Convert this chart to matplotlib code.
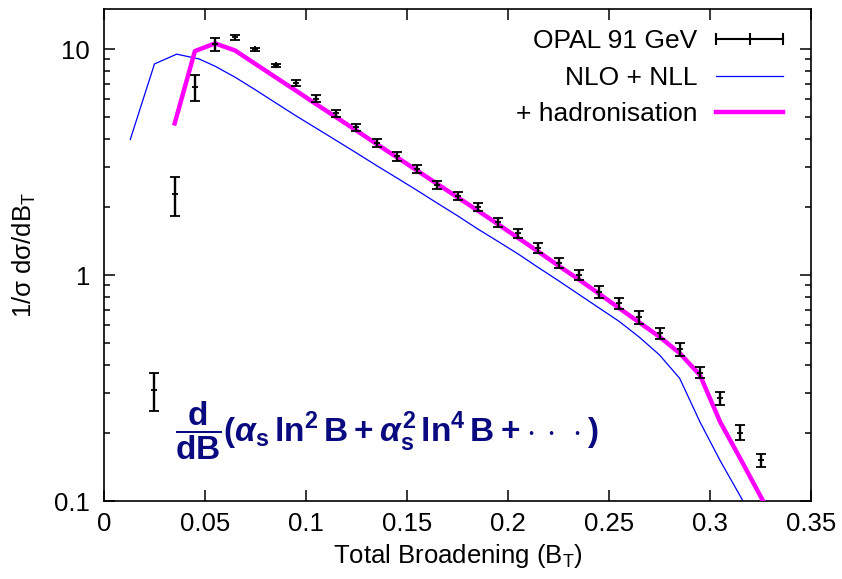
import matplotlib
matplotlib.use("Agg")
import matplotlib.pyplot as plt
import matplotlib.ticker as mticker
from matplotlib.lines import Line2D

plt.rcParams['font.family'] = ['Liberation Sans', 'DejaVu Sans']
plt.rcParams['mathtext.fontset'] = 'custom'
plt.rcParams['mathtext.rm'] = 'Liberation Sans:bold'
plt.rcParams['mathtext.it'] = 'Liberation Sans:bold:italic'
plt.rcParams['mathtext.bf'] = 'Liberation Sans:bold'

# OPAL 91 GeV data: total broadening B_T
opal_x = [0.025, 0.035, 0.045, 0.055, 0.065, 0.075, 0.085, 0.095, 0.105, 0.115,
          0.125, 0.135, 0.145, 0.155, 0.165, 0.175, 0.185, 0.195, 0.205, 0.215,
          0.225, 0.235, 0.245, 0.255, 0.265, 0.275, 0.285, 0.295, 0.305, 0.315, 0.325]
opal_y = [0.31, 2.28, 6.8, 10.5, 11.3, 9.97, 8.47, 7.07, 6.03, 5.19,
          4.50, 3.84, 3.35, 2.95, 2.51, 2.24, 2.01, 1.71, 1.53, 1.32,
          1.13, 1.00, 0.841, 0.75, 0.65, 0.552, 0.47, 0.37, 0.285, 0.201, 0.152]
opal_err = [0.06, 0.45, 0.9, 0.7, 0.3, 0.15, 0.15, 0.2, 0.22, 0.2,
            0.18, 0.16, 0.14, 0.12, 0.11, 0.10, 0.08, 0.08, 0.07, 0.07,
            0.06, 0.05, 0.05, 0.04, 0.04, 0.03, 0.03, 0.02, 0.018, 0.015, 0.01]

# NLO + NLL prediction
nll_x = [0.013, 0.025, 0.036, 0.047, 0.055, 0.065, 0.075, 0.085, 0.095, 0.105,
         0.115, 0.125, 0.135, 0.145, 0.155, 0.165, 0.175, 0.185, 0.195, 0.205,
         0.215, 0.225, 0.235, 0.245, 0.255, 0.265, 0.275, 0.285, 0.295, 0.305,
         0.315, 0.325]
nll_y = [3.98, 8.6, 9.5, 9.05, 8.4, 7.5, 6.6, 5.78, 5.07, 4.47,
         3.94, 3.47, 3.05, 2.69, 2.37, 2.08, 1.83, 1.60, 1.41, 1.24,
         1.08, 0.944, 0.822, 0.716, 0.624, 0.531, 0.443, 0.349, 0.224, 0.151,
         0.105, 0.072]

# NLO + NLL + hadronisation
had_x = [0.035, 0.045, 0.055, 0.065, 0.075, 0.085, 0.095, 0.105, 0.115, 0.125,
         0.135, 0.145, 0.155, 0.165, 0.175, 0.185, 0.195, 0.205, 0.215, 0.225,
         0.235, 0.245, 0.255, 0.265, 0.275, 0.285, 0.295, 0.305, 0.315, 0.325, 0.335]
had_y = [4.69, 9.8, 10.6, 9.85, 8.59, 7.50, 6.55, 5.71, 4.99, 4.36,
         3.80, 3.32, 2.90, 2.53, 2.21, 1.93, 1.68, 1.46, 1.27, 1.10,
         0.957, 0.828, 0.714, 0.617, 0.533, 0.451, 0.361, 0.224, 0.154, 0.105, 0.072]

x_ticks = [0, 0.05, 0.1, 0.15, 0.2, 0.25, 0.3, 0.35]
y_ticks = [0.1, 1, 10]

fig = plt.figure(figsize=(8.42, 5.79), dpi=100)
ax = fig.add_axes([0.1235, 0.1347, 0.8397, 0.8492])

ax.errorbar(opal_x, opal_y, yerr=opal_err, fmt='+', color='black', ms=4, mew=1.3,
            elinewidth=1.7, capsize=3.3, capthick=1.7, zorder=4)
ax.plot(nll_x, nll_y, color='#0000ff', lw=0.9, zorder=2)
ax.plot(had_x, had_y, color='#ff00ff', lw=3.2, zorder=3)

ax.set_yscale('log')
ax.set_xlim(0, 0.35)
ax.set_ylim(0.1, 15)
ax.set_xticks(x_ticks)
ax.xaxis.set_major_formatter(mticker.FuncFormatter(lambda v, p: '%g' % v))
ax.xaxis.set_minor_locator(mticker.NullLocator())
ax.set_yticks(y_ticks)
ax.yaxis.set_major_formatter(mticker.FuncFormatter(lambda v, p: '%g' % v))
ax.yaxis.set_minor_locator(mticker.LogLocator(base=10, subs=range(2, 10)))
ax.yaxis.set_minor_formatter(mticker.NullFormatter())

ax.tick_params(which='both', direction='in', top=True, right=True, width=1.1)
ax.tick_params(which='major', length=8, labelsize=18.5)
ax.tick_params(axis='x', which='major', pad=8)
ax.tick_params(axis='y', which='major', pad=10)
ax.tick_params(which='minor', length=4.5)
for s in ax.spines.values():
    s.set_linewidth(1.2)

ax.set_xlabel(r'Total Broadening (B$_\mathregular{T}$)', fontsize=18.5, labelpad=4)
ax.set_ylabel(r'1/σ dσ/dB$_\mathregular{T}$', fontsize=18.5, labelpad=12)

handles = [
    Line2D([], [], color='black', lw=1.5, marker='|', ms=8, mew=1.5),
    Line2D([], [], color='#0000ff', lw=0.9),
    Line2D([], [], color='#ff00ff', lw=3.2),
]
labels = ['OPAL 91 GeV', 'NLO + NLL', '+ hadronisation']
ax.legend(handles, labels, loc='upper right', frameon=False, markerfirst=False,
          numpoints=3, fontsize=19, handlelength=3.15, handletextpad=0.4,
          labelspacing=0.48, borderaxespad=0.55, borderpad=0.2)

ax.text(0.1, 0.142,
        r'$\dfrac{\mathrm{d}}{\mathrm{dB}}(\alpha_\mathrm{s}\,\ln^2\mathrm{B}\:+\:\alpha_\mathrm{s}^2\,\ln^4\mathrm{B}\:+\:\cdot\,\cdot\,\cdot)$',
        transform=ax.transAxes, ha='left', va='center', fontsize=24, color='#0a0a80')

fig.savefig('out.png', dpi=100)
